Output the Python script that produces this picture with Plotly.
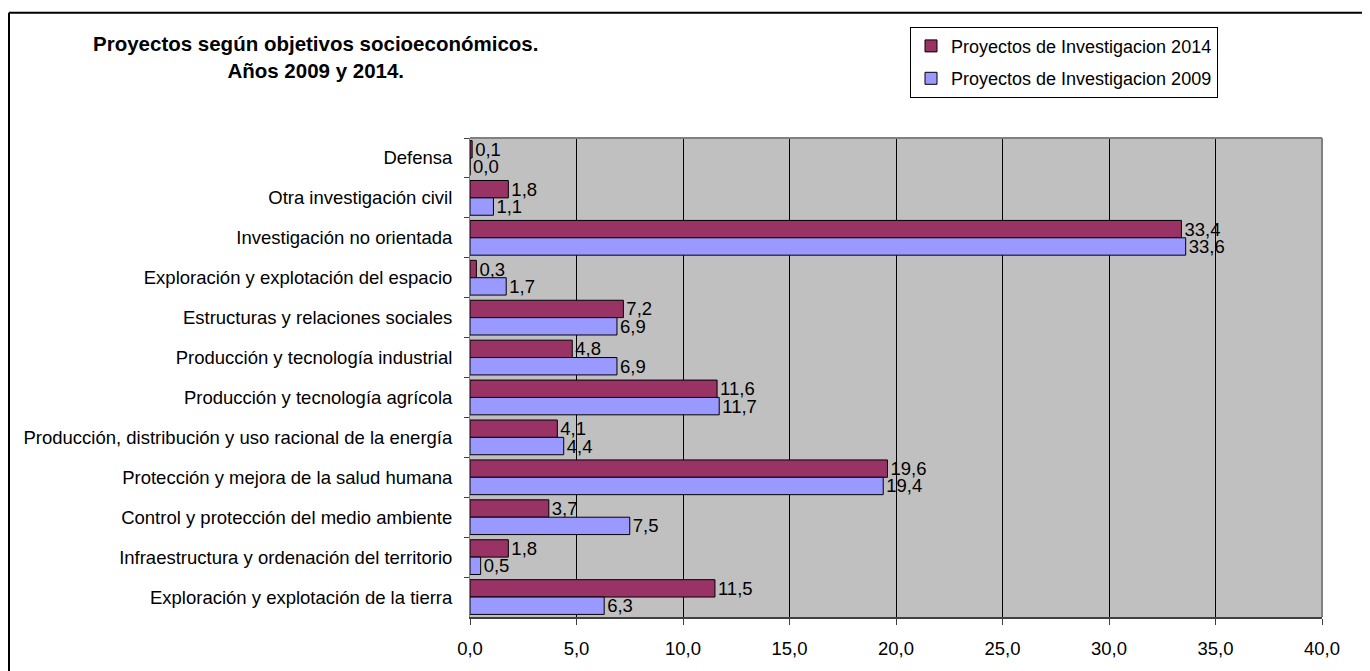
import plotly.graph_objects as go

categories = [
    "Defensa",
    "Otra investigación civil",
    "Investigación no orientada",
    "Exploración y explotación del espacio",
    "Estructuras y relaciones sociales",
    "Producción y tecnología industrial",
    "Producción y tecnología agrícola",
    "Producción, distribución y uso racional de la energía",
    "Protección y mejora de la salud humana",
    "Control y protección del medio ambiente",
    "Infraestructura y ordenación del territorio",
    "Exploración y explotación de la tierra",
]
values_2014 = [0.1, 1.8, 33.4, 0.3, 7.2, 4.8, 11.6, 4.1, 19.6, 3.7, 1.8, 11.5]
values_2009 = [0.0, 1.1, 33.6, 1.7, 6.9, 6.9, 11.7, 4.4, 19.4, 7.5, 0.5, 6.3]
series_names = ["Proyectos de Investigacion 2014", "Proyectos de Investigacion 2009"]
x_ticks = [0, 5, 10, 15, 20, 25, 30, 35, 40]

# page offset from the browser's default body margin
O = 8
W, H = 1370 - O, 671 - O
ML, MR, MT, MB = 470 - O, 48, 138 - O, 51
PW, PH = W - ML - MR, H - MT - MB

FONT = "Liberation Sans, Arial, sans-serif"
FS = 18.5

def px_x(px):
    return (px - O - ML) / PW

def px_y(py):
    return (MT + PH - (py - O)) / PH

fig = go.Figure()
for name, vals, col in [
    (series_names[0], values_2014, "#993366"),
    (series_names[1], values_2009, "#9999FF"),
]:
    fig.add_trace(go.Bar(
        y=categories, x=vals, name=name, orientation="h",
        legendgroup=name,
        marker=dict(color=col, line=dict(color="black", width=1)),
        texttemplate="%{x:.1f}", textposition="outside",
        textfont=dict(family=FONT, size=FS, color="black"),
        cliponaxis=False, constraintext="none",
    ))

fig.update_layout(
    width=W, height=H,
    margin=dict(l=ML, r=MR, t=MT, b=MB, pad=0),
    paper_bgcolor="white", plot_bgcolor="#C0C0C0",
    separators=", ",
    barmode="group", bargap=0.13, bargroupgap=0,
    font=dict(family=FONT, size=FS, color="black"),
    showlegend=True,
    legend=dict(
        x=px_x(910), y=px_y(26), xanchor="left", yanchor="top",
        bgcolor="white", bordercolor="black", borderwidth=1,
        font=dict(family=FONT, size=18, color="black"),
        traceorder="grouped", itemwidth=30, tracegroupgap=6,
    ),
    xaxis=dict(
        range=[0, 40], tickvals=x_ticks, tickformat=".1f",
        showgrid=True, gridcolor="black", gridwidth=1,
        zeroline=False, showline=True, linecolor="#404040", linewidth=2,
        ticks="outside", ticklen=6, tickcolor="#404040",
        tickfont=dict(family=FONT, size=FS, color="black"),
        ticklabelstandoff=8,
        fixedrange=True,
    ),
    yaxis=dict(
        autorange="reversed", tickson="boundaries",
        showline=True, linecolor="#808080", linewidth=1,
        ticks="outside", ticklen=5, tickcolor="#404040",
        tickfont=dict(family=FONT, size=FS, color="black"),
        ticklabelstandoff=13,
        showgrid=False,
        fixedrange=True,
    ),
    annotations=[dict(
        text="<b>Proyectos según objetivos socioeconómicos.</b><br><b>Años 2009 y 2014.</b>",
        xref="paper", yref="paper", x=px_x(315), y=px_y(56),
        xanchor="center", yanchor="middle", showarrow=False,
        font=dict(family=FONT, size=20.5, color="black"),
    )],
    shapes=[
        dict(type="line", xref="paper", yref="paper",
             x0=px_x(O + 1), x1=px_x(1380), y0=px_y(12), y1=px_y(12),
             line=dict(color="black", width=2)),
        dict(type="line", xref="paper", yref="paper",
             x0=px_x(O + 1), x1=px_x(O + 1), y0=px_y(12), y1=px_y(700),
             line=dict(color="black", width=2)),
        dict(type="line", xref="paper", yref="paper",
             x0=0, x1=1, y0=1, y1=1, line=dict(color="#808080", width=2)),
        dict(type="line", xref="paper", yref="paper",
             x0=1, x1=1, y0=0, y1=1, line=dict(color="#808080", width=2)),
    ],
)

fig.write_html("out.html")
